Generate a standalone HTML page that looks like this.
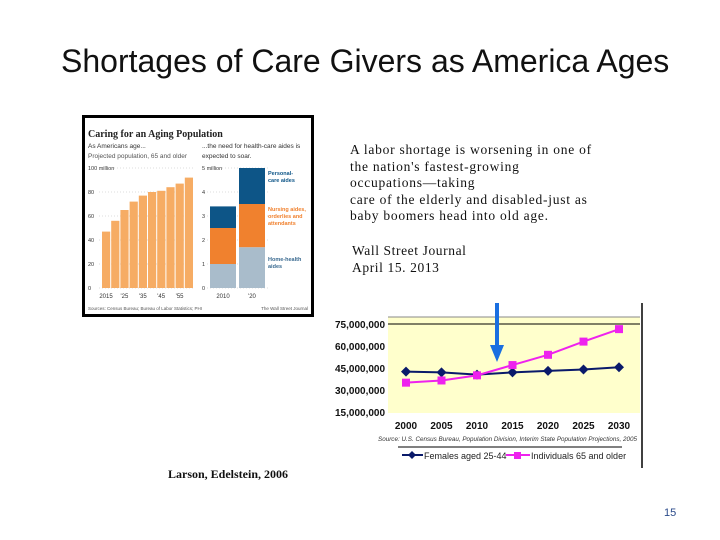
<!DOCTYPE html>
<html><head><meta charset="utf-8"><style>
body{margin:0;width:720px;height:540px;background:#fff;position:relative;overflow:hidden;font-family:"Liberation Sans",sans-serif}
.a{position:absolute;white-space:nowrap}
.s{font-family:"Liberation Serif",serif}
</style></head><body>
<div class="a" style="left:61px;top:43px;font-size:32px;color:#111">Shortages of Care Givers as America Ages</div>
<div class="a s" style="left:350px;top:142px;font-size:13.5px;line-height:16.5px;letter-spacing:0.75px;color:#111">A labor shortage is worsening in one of<br>the  nation's fastest-growing<br>occupations—taking<br>care of the elderly and disabled-just as<br>baby boomers head into old age.</div>
<div class="a s" style="left:352px;top:242px;font-size:13.5px;line-height:17px;letter-spacing:0.6px;color:#111">Wall Street Journal<br>April 15. 2013</div>
<div class="a s" style="left:168px;top:467px;font-size:12px;font-weight:bold;color:#111">Larson, Edelstein, 2006</div>
<div class="a" style="left:664px;top:507px;font-size:11px;color:#2a4a8a">15</div>

<svg class="a" style="left:0;top:0" width="720" height="540">
<g id="wsj"></g>
<g id="lc"></g>
</svg>
<script>
const NS="http://www.w3.org/2000/svg";
function mk(p,t,at,txt){const e=document.createElementNS(NS,t);for(const k in at)e.setAttribute(k,at[k]);if(txt!=null)e.textContent=txt;p.appendChild(e);return e;}
// WSJ graphic data
const popYears=["2015","'25","'35","'45","'55"];
const popValues=[47,56,65,72,77,80,81,84,87,92];
const aideYears=["2010","'20"];
const homeHealth=[1.0,1.7];
const nursing=[1.5,1.8];
const personal=[0.9,1.5];
const w=document.getElementById('wsj');
let e=mk(w,'rect',{x:83.5,y:116.5,width:229,height:199,fill:'#fff',stroke:'#000','stroke-width':3});

mk(w,'text',{x:88,y:137,'font-size':10,'font-weight':'bold','font-family':'Liberation Serif',fill:'#222'},'Caring for an Aging Population');
mk(w,'text',{x:88,y:148,'font-size':6.5,fill:'#333'},'As Americans age...');
mk(w,'text',{x:88,y:158,'font-size':6.5,fill:'#555'},'Projected population, 65 and older');
mk(w,'text',{x:202,y:148,'font-size':6.5,fill:'#333'},'...the need for health-care aides is');
mk(w,'text',{x:202,y:158,'font-size':6.5,fill:'#333'},'expected to soar.');
const y0=288,ly=v=>y0-v*1.2,ry=v=>y0-v*24;
[0,20,40,60,80,100].forEach(v=>{mk(w,'text',{x:88,y:ly(v)+2,'font-size':5.5,fill:'#333'},v==100?'100 million':v);mk(w,'line',{x1:99,x2:194,y1:ly(v),y2:ly(v),stroke:'#bbb','stroke-dasharray':'1,2','stroke-width':0.6});});
popValues.forEach((v,i)=>{const r=mk(w,'rect',{x:102+i*9.2,y:ly(v),width:8.2,height:v*1.2,fill:'#f6ac64'});});
popYears.forEach((t,i)=>mk(w,'text',{x:102+i*18.4+4,y:298,'font-size':6,fill:'#333','text-anchor':'middle'},t));
[0,1,2,3,4,5].forEach(v=>{mk(w,'text',{x:202,y:ry(v)+2,'font-size':5.5,fill:'#333'},v==5?'5 million':v);mk(w,'line',{x1:207,x2:268,y1:ry(v),y2:ry(v),stroke:'#bbb','stroke-dasharray':'1,2','stroke-width':0.6});});
aideYears.forEach((t,i)=>{const x=210+i*29;let b=0;[[homeHealth[i],'#a9bccb'],[nursing[i],'#f0812e'],[personal[i],'#0d5587']].forEach(([v,c])=>{const r=mk(w,'rect',{x:x,y:ry(b+v),width:26,height:v*24,fill:c});b+=v;});mk(w,'text',{x:x+13,y:298,'font-size':6,fill:'#333','text-anchor':'middle'},t);});
mk(w,'text',{x:268,y:175,'font-size':5.5,fill:'#0d5587','font-weight':'bold'},'Personal-');
mk(w,'text',{x:268,y:182,'font-size':5.5,fill:'#0d5587','font-weight':'bold'},'care aides');
['Nursing aides,','orderlies and','attendants'].forEach((t,i)=>mk(w,'text',{x:268,y:211+i*7,'font-size':5.5,fill:'#f0812e','font-weight':'bold'},t));
['Home-health','aides'].forEach((t,i)=>mk(w,'text',{x:268,y:261+i*7,'font-size':5.5,fill:'#3a6a90','font-weight':'bold'},t));
mk(w,'text',{x:88,y:310,'font-size':4.5,fill:'#555'},'Sources: Census Bureau; Bureau of Labor Statistics; PHI');
mk(w,'text',{x:308,y:310,'font-size':4.5,fill:'#555','text-anchor':'end'},'The Wall Street Journal');

// line chart data
const years=["2000","2005","2010","2015","2020","2025","2030"];
const females=[42.5,42,40.5,42,43,44,45.5];
const elderly=[35,36.5,40,47,54,63,71.5];
const yTicks=[15,30,45,60,75];
const g=document.getElementById('lc');
const X=i=>406+i*35.5, Y=v=>412-(v-15)*22/15;
e=mk(g,'rect',{x:388,y:317,width:252,height:96,fill:'#ffffcc'});
mk(g,'line',{x1:388,x2:640,y1:317,y2:317,stroke:'#888'});
mk(g,'line',{x1:388,x2:640,y1:Y(75),y2:Y(75),stroke:'#000'});
mk(g,'line',{x1:642,x2:642,y1:303,y2:468,stroke:'#000','stroke-width':1.5});
yTicks.forEach(v=>{const t=mk(g,'text',{x:335,y:Y(v)+4,'font-size':10,'font-weight':'bold',fill:'#111'},(v*1e6).toLocaleString('en-US'));});
years.forEach((t,i)=>{const l=mk(g,'text',{x:X(i),y:429,'font-size':10,'font-weight':'bold',fill:'#111','text-anchor':'middle'},t);});
function series(vals,col,sq,name){mk(g,'polyline',{points:vals.map((v,i)=>X(i)+','+Y(v)).join(' '),fill:'none',stroke:col,'stroke-width':2});
vals.forEach((v,i)=>{const m=sq?mk(g,'rect',{x:X(i)-4,y:Y(v)-4,width:8,height:8,fill:col}):mk(g,'polygon',{points:`${X(i)},${Y(v)-5} ${X(i)+5},${Y(v)} ${X(i)},${Y(v)+5} ${X(i)-5},${Y(v)}`,fill:col});});}
series(females,'#0a1a6a',false,'females-point');
series(elderly,'#ee22ee',true,'elderly-point');
mk(g,'path',{d:'M495 303 V345 H490 L497 362 L504 345 H499 V303 Z',fill:'#1a6fe0'});
mk(g,'text',{x:378,y:441,'font-size':6.3,'font-style':'italic',fill:'#333'},'Source: U.S. Census Bureau, Population Division, Interim State Population Projections, 2005');
mk(g,'line',{x1:398,x2:622,y1:447,y2:447,stroke:'#000'});
mk(g,'line',{x1:402,x2:423,y1:455,y2:455,stroke:'#0a1a6a','stroke-width':2});
mk(g,'polygon',{points:'412,451 416,455 412,459 408,455',fill:'#0a1a6a'});
mk(g,'text',{x:424,y:459,'font-size':9,fill:'#222'},'Females aged 25-44');
mk(g,'line',{x1:506,x2:530,y1:455,y2:455,stroke:'#ee22ee','stroke-width':2});
mk(g,'rect',{x:514,y:452,width:7,height:7,fill:'#ee22ee'});
mk(g,'text',{x:531,y:459,'font-size':9,fill:'#222'},'Individuals 65 and older');
</script>
</body></html>
